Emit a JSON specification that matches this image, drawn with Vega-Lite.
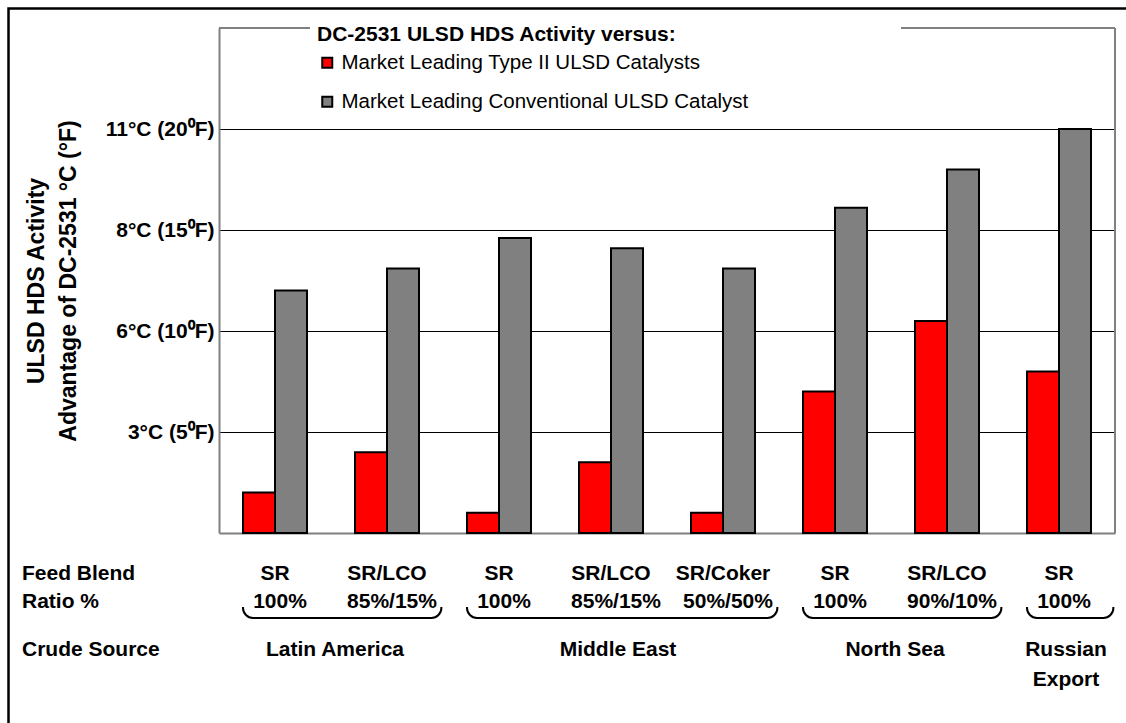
{
  "$schema": "https://vega.github.io/schema/vega-lite/v6.json",
  "width": 896,
  "height": 505,
  "autosize": {"type": "none"},
  "padding": {"left": 219, "top": 28, "right": 11, "bottom": 190},
  "background": "white",
  "config": {
    "view": {"stroke": null},
    "font": "Liberation Sans",
    "axisX": {"labels": false, "ticks": false, "grid": false, "domainColor": "#808080", "domainWidth": 2, "title": null}
  },
  "datasets": {
    "bars": [
      {"cat": "LA SR", "source": "Latin America", "blend": "SR", "ratio": "100%", "catalyst": "Market Leading Type II ULSD Catalysts", "value": 2.0},
      {"cat": "LA SR", "source": "Latin America", "blend": "SR", "ratio": "100%", "catalyst": "Market Leading Conventional ULSD Catalyst", "value": 12.0},
      {"cat": "LA SR/LCO", "source": "Latin America", "blend": "SR/LCO", "ratio": "85%/15%", "catalyst": "Market Leading Type II ULSD Catalysts", "value": 4.0},
      {"cat": "LA SR/LCO", "source": "Latin America", "blend": "SR/LCO", "ratio": "85%/15%", "catalyst": "Market Leading Conventional ULSD Catalyst", "value": 13.1},
      {"cat": "ME SR", "source": "Middle East", "blend": "SR", "ratio": "100%", "catalyst": "Market Leading Type II ULSD Catalysts", "value": 1.0},
      {"cat": "ME SR", "source": "Middle East", "blend": "SR", "ratio": "100%", "catalyst": "Market Leading Conventional ULSD Catalyst", "value": 14.6},
      {"cat": "ME SR/LCO", "source": "Middle East", "blend": "SR/LCO", "ratio": "85%/15%", "catalyst": "Market Leading Type II ULSD Catalysts", "value": 3.5},
      {"cat": "ME SR/LCO", "source": "Middle East", "blend": "SR/LCO", "ratio": "85%/15%", "catalyst": "Market Leading Conventional ULSD Catalyst", "value": 14.1},
      {"cat": "ME SR/Coker", "source": "Middle East", "blend": "SR/Coker", "ratio": "50%/50%", "catalyst": "Market Leading Type II ULSD Catalysts", "value": 1.0},
      {"cat": "ME SR/Coker", "source": "Middle East", "blend": "SR/Coker", "ratio": "50%/50%", "catalyst": "Market Leading Conventional ULSD Catalyst", "value": 13.1},
      {"cat": "NS SR", "source": "North Sea", "blend": "SR", "ratio": "100%", "catalyst": "Market Leading Type II ULSD Catalysts", "value": 7.0},
      {"cat": "NS SR", "source": "North Sea", "blend": "SR", "ratio": "100%", "catalyst": "Market Leading Conventional ULSD Catalyst", "value": 16.1},
      {"cat": "NS SR/LCO", "source": "North Sea", "blend": "SR/LCO", "ratio": "90%/10%", "catalyst": "Market Leading Type II ULSD Catalysts", "value": 10.5},
      {"cat": "NS SR/LCO", "source": "North Sea", "blend": "SR/LCO", "ratio": "90%/10%", "catalyst": "Market Leading Conventional ULSD Catalyst", "value": 18.0},
      {"cat": "RU SR", "source": "Russian Export", "blend": "SR", "ratio": "100%", "catalyst": "Market Leading Type II ULSD Catalysts", "value": 8.0},
      {"cat": "RU SR", "source": "Russian Export", "blend": "SR", "ratio": "100%", "catalyst": "Market Leading Conventional ULSD Catalyst", "value": 20.0}
    ],
    "groups": [
      {"label": "Latin America", "first": "LA SR", "last": "LA SR/LCO", "mid": "LA SR", "pair": true},
      {"label": "Middle East", "first": "ME SR", "last": "ME SR/Coker", "mid": "ME SR/LCO", "pair": false},
      {"label": "North Sea", "first": "NS SR", "last": "NS SR/LCO", "mid": "NS SR", "pair": true},
      {"label": "Russian\nExport", "first": "RU SR", "last": "RU SR", "mid": "RU SR", "pair": false}
    ]
  },
  "layer": [
    {
      "data": {"values": [{}]},
      "mark": {"type": "rect", "fill": null, "stroke": "black", "strokeWidth": 2.5},
      "encoding": {"x": {"value": -210.5}, "x2": {"value": 1100}, "y": {"value": -19.5}, "y2": {"value": 900}}
    },
    {
      "data": {"name": "bars"},
      "mark": {"type": "bar", "stroke": "black", "strokeWidth": 2},
      "encoding": {
        "x": {"field": "cat", "type": "nominal", "sort": null, "title": null,
          "scale": {"domain": ["LA SR", "LA SR/LCO", "ME SR", "ME SR/LCO", "ME SR/Coker", "NS SR", "NS SR/LCO", "RU SR"], "paddingInner": 0.4286, "paddingOuter": 0.2143}},
        "xOffset": {"field": "catalyst", "type": "nominal",
          "sort": ["Market Leading Type II ULSD Catalysts", "Market Leading Conventional ULSD Catalyst"],
          "scale": {"paddingInner": 0, "paddingOuter": 0}},
        "y": {"field": "value", "type": "quantitative",
          "scale": {"domain": [0, 25], "nice": false},
          "axis": {
            "values": [5, 10, 15, 20], "grid": true, "gridColor": "black", "gridWidth": 1,
            "ticks": false, "domainColor": "#808080", "domainWidth": 2,
            "labelExpr": "datum.value == 5 ? '3°C (5⁰F)' : datum.value == 10 ? '6°C (10⁰F)' : datum.value == 15 ? '8°C (15⁰F)' : '11°C (20⁰F)'",
            "labelFontSize": 21, "labelFontWeight": "bold", "labelColor": "black", "labelPadding": 5, "labelBaseline": "middle",
            "title": ["ULSD HDS Activity", "Advantage of DC-2531 °C (°F)"],
            "titleFontSize": 23, "titleFontWeight": "bold", "titleColor": "black", "titleLineHeight": 32, "titlePadding": 25
          }},
        "color": {"field": "catalyst", "type": "nominal",
          "scale": {"domain": ["Market Leading Type II ULSD Catalysts", "Market Leading Conventional ULSD Catalyst"], "range": ["#FF0000", "#808080"]},
          "legend": {
            "orient": "none", "legendX": 91, "legendY": -11.5, "padding": 7,
            "title": "DC-2531 ULSD HDS Activity versus:", "titleFontSize": 21, "titleFontWeight": "bold", "titleColor": "black", "titlePadding": 8, "titleLimit": 700,
            "labelFontSize": 20.5, "labelColor": "black", "labelOffset": 4, "labelLimit": 700,
            "symbolType": "square", "symbolSize": 100, "symbolStrokeColor": "black", "symbolStrokeWidth": 2, "symbolOpacity": 1,
            "rowPadding": 18
          }}
      }
    },
    {
      "data": {"values": [{}]},
      "mark": {"type": "rule", "color": "#808080", "strokeWidth": 2},
      "encoding": {"x": {"value": "width"}, "y": {"value": 0}, "y2": {"value": "height"}}
    },
    {
      "data": {"values": [{}]},
      "mark": {"type": "rule", "color": "#808080", "strokeWidth": 2},
      "encoding": {"x": {"value": 0}, "x2": {"value": 91}, "y": {"value": 0}}
    },
    {
      "data": {"values": [{}]},
      "mark": {"type": "rule", "color": "#808080", "strokeWidth": 2},
      "encoding": {"x": {"value": 682}, "x2": {"value": "width"}, "y": {"value": 0}}
    },
    {
      "data": {"values": [{"h": "Feed Blend"}]},
      "mark": {"type": "text", "align": "left", "baseline": "alphabetic", "fontSize": 21, "fontWeight": "bold", "color": "black"},
      "encoding": {"text": {"field": "h"}, "x": {"value": -197}, "y": {"value": 552}}
    },
    {
      "data": {"values": [{"h": "Ratio %"}]},
      "mark": {"type": "text", "align": "left", "baseline": "alphabetic", "fontSize": 21, "fontWeight": "bold", "color": "black"},
      "encoding": {"text": {"field": "h"}, "x": {"value": -197}, "y": {"value": 580}}
    },
    {
      "data": {"values": [{"h": "Crude Source"}]},
      "mark": {"type": "text", "align": "left", "baseline": "alphabetic", "fontSize": 21, "fontWeight": "bold", "color": "black"},
      "encoding": {"text": {"field": "h"}, "x": {"value": -197}, "y": {"value": 628}}
    },
    {
      "data": {"name": "bars"},
      "transform": [{"filter": "datum.catalyst == 'Market Leading Type II ULSD Catalysts'"}],
      "mark": {"type": "text", "align": "center", "baseline": "alphabetic", "fontSize": 21, "fontWeight": "bold", "color": "black"},
      "encoding": {"text": {"field": "blend"}, "x": {"field": "cat", "type": "nominal", "sort": null, "title": null}, "y": {"value": 552}}
    },
    {
      "data": {"name": "groups"},
      "mark": {"type": "rect", "fill": null, "stroke": "black", "strokeWidth": 2, "cornerRadius": 10},
      "encoding": {
        "x": {"field": "first", "type": "nominal", "sort": null, "title": null, "bandPosition": 0},
        "x2": {"field": "last", "bandPosition": 1.35},
        "y": {"value": 570}, "y2": {"value": 590}
      }
    },
    {
      "data": {"name": "groups"},
      "mark": {"type": "rect", "fill": "white", "stroke": "white", "strokeWidth": 4},
      "encoding": {
        "x": {"field": "first", "type": "nominal", "sort": null, "title": null, "bandPosition": 0},
        "x2": {"field": "last", "bandPosition": 1.35},
        "y": {"value": 560}, "y2": {"value": 577}
      }
    },
    {
      "data": {"name": "bars"},
      "transform": [{"filter": "datum.catalyst == 'Market Leading Type II ULSD Catalysts'"}],
      "mark": {"type": "text", "align": "center", "baseline": "alphabetic", "fontSize": 21, "fontWeight": "bold", "color": "black", "dx": 5},
      "encoding": {"text": {"field": "ratio"}, "x": {"field": "cat", "type": "nominal", "sort": null, "title": null}, "y": {"value": 580}}
    },
    {
      "data": {"name": "groups"},
      "transform": [{"filter": "datum.pair"}],
      "mark": {"type": "text", "align": "center", "baseline": "alphabetic", "fontSize": 21, "fontWeight": "bold", "color": "black", "dx": 60},
      "encoding": {"text": {"field": "label"}, "x": {"field": "mid", "type": "nominal", "sort": null, "title": null}, "y": {"value": 628}}
    },
    {
      "data": {"name": "groups"},
      "transform": [{"filter": "!datum.pair"}],
      "mark": {"type": "text", "align": "center", "baseline": "alphabetic", "fontSize": 21, "fontWeight": "bold", "color": "black", "dx": 7, "lineBreak": "\n", "lineHeight": 30},
      "encoding": {"text": {"field": "label"}, "x": {"field": "mid", "type": "nominal", "sort": null, "title": null}, "y": {"value": 628}}
    }
  ]
}
